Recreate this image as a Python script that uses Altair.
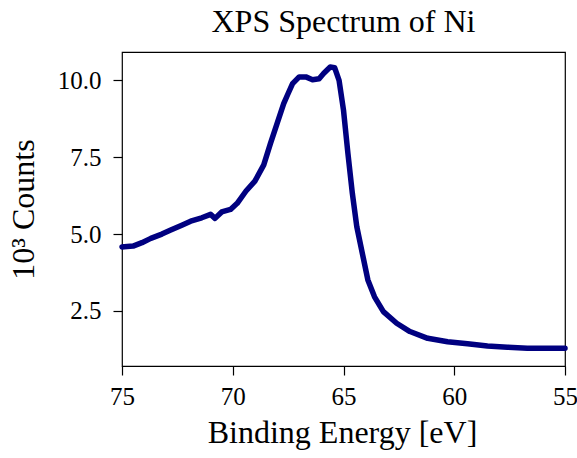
import altair as alt
import pandas as pd

energy = [75.0, 74.9, 74.5, 74.1, 73.7, 73.2, 72.8, 72.3, 71.9, 71.4, 71.0, 70.8,
          70.5, 70.1, 69.8, 69.4, 69.0, 68.6, 68.3, 68.0, 67.7, 67.5, 67.3, 67.0,
          66.7, 66.4, 66.1, 65.9, 65.6, 65.4, 65.2, 65.0, 64.8, 64.6, 64.4, 64.1,
          63.9, 63.6, 63.2, 62.6, 62.0, 61.2, 60.3, 59.4, 58.5, 57.6, 56.7, 55.8, 55.0]
counts = [4.58, 4.59, 4.61, 4.72, 4.86, 5.00, 5.13, 5.29, 5.42, 5.53, 5.64, 5.51,
          5.72, 5.80, 6.00, 6.40, 6.72, 7.25, 7.94, 8.59, 9.24, 9.57, 9.89, 10.11,
          10.11, 10.02, 10.05, 10.22, 10.43, 10.41, 10.00, 9.03, 7.62, 6.32, 5.24, 4.20,
          3.51, 2.96, 2.48, 2.10, 1.83, 1.61, 1.50, 1.43, 1.36, 1.32, 1.29, 1.29, 1.29]

x_ticks = [75, 70, 65, 60, 55]
y_ticks = [2.5, 5.0, 7.5, 10.0]

df = pd.DataFrame({"energy": energy, "counts": counts})

FONT = "Liberation Serif"
W, H = 443, 314

chart = alt.Chart(df).mark_line(
    color="#000080", strokeWidth=5.5, strokeJoin="round", strokeCap="round"
).encode(
    x=alt.X("energy:Q",
            scale=alt.Scale(domain=[55, 75], reverse=True, nice=False, zero=False),
            axis=alt.Axis(values=x_ticks, format="d", title="Binding Energy [eV]",
                          grid=False, domain=False, tickSize=9, tickColor="black",
                          tickWidth=1.2, labelFont=FONT, labelFontSize=25,
                          labelColor="black", labelPadding=9, labelFlush=False,
                          titleFont=FONT, titleFontSize=32, titleFontWeight="normal",
                          titleColor="black", titleX=220, titleY=76,
                          titleBaseline="alphabetic", titleAlign="center")),
    y=alt.Y("counts:Q",
            scale=alt.Scale(domain=[0.71, 10.92], nice=False, zero=False),
            axis=alt.Axis(values=y_ticks, format=".1f", title="10³ Counts",
                          grid=False, domain=False, tickSize=9, tickColor="black",
                          tickWidth=1.2, labelFont=FONT, labelFontSize=25,
                          labelColor="black", labelPadding=12,
                          titleFont=FONT, titleFontSize=32, titleFontWeight="normal",
                          titleColor="black", titleX=-89, titleY=157, titleAngle=270,
                          titleBaseline="alphabetic", titleAlign="center")),
).properties(
    width=W, height=H,
    title=alt.Title("XPS Spectrum of Ni", font=FONT, fontSize=32, fontWeight="normal",
                    color="black", anchor="middle", baseline="alphabetic", offset=20,
                    frame="group", dy=32),
    autosize=alt.AutoSizeParams(type="none"),
    padding={"left": 122, "top": 52, "right": 12, "bottom": 92},
).configure(
    background="white"
).configure_view(
    stroke="black", strokeWidth=1.2
)

chart.save("out.html", embed_options={"renderer": "svg", "actions": False})
